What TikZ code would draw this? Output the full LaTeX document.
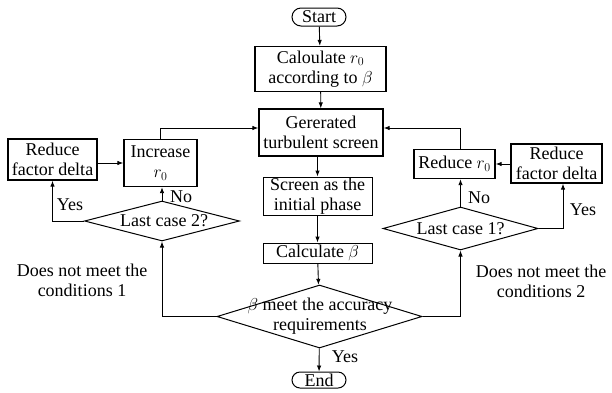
\documentclass[tikz,border=0pt]{standalone}
\usepackage{fontspec}
\setmainfont{Liberation Serif}
\usetikzlibrary{arrows.meta,shapes.geometric,shapes.misc}

\begin{document}
\begin{tikzpicture}[x=1pt,y=-1pt,font=\fontsize{18}{20}\selectfont,
    flowbox/.style={draw,line width=1.3pt,align=center,inner sep=0.5pt},
    thinbox/.style={draw,line width=0.9pt,align=center,inner sep=0.5pt},
    terminal/.style={draw,line width=1pt,rounded rectangle,inner sep=1pt,
      minimum width=56pt},
    decision/.style={draw,line width=1pt,diamond,inner sep=0pt},
    arr/.style={-{Latex[length=6pt,width=4.5pt]},line width=0.9pt},
    note/.style={align=center,inner sep=1pt}]
  \useasboundingbox (0,0) rectangle (612,392);

  % main column
  \node[terminal,minimum height=18pt] (start) at (319,17) {Start};
  \node[flowbox,minimum width=131pt,minimum height=45pt] (calc) at (320.5,69)
    {Caloulate $r_0$\\according to $\beta$};
  \node[flowbox,minimum width=124pt,minimum height=47pt] (gen) at (321,132.5)
    {Gererated\\turbulent screen};
  \node[thinbox,minimum width=109pt,minimum height=38pt] (screen) at (317.5,196)
    {Screen as the\\initial phase};
  \node[thinbox,minimum width=109pt,minimum height=20pt] (calcb) at (317.5,253)
    {Calculate $\beta$};
  \node[decision,minimum width=205pt,minimum height=63pt] (acc) at (319.5,316.5) {};
  \node[note] (acctext) at (320,316.5) {$\beta$ meet the accuracy\\requirements};
  \node[terminal,minimum height=16pt] (end) at (319,380) {End};

  % left branch
  \node[flowbox,minimum width=89pt,minimum height=41pt] (rfdl) at (52.5,159.5)
    {Reduce\\factor delta};
  \node[flowbox,minimum width=73pt,minimum height=47pt] (inc) at (160.5,163)
    {Increase\\$r_0$};
  \node[decision,minimum width=155pt,minimum height=40pt] (lastb) at (162,221) {};
  \node[inner sep=0pt] (lastbtext) at (164,221) {Last case 2?};

  % right branch
  \node[flowbox,minimum width=81pt,minimum height=29pt] (redr) at (454.5,164)
    {Reduce $r_0$};
  \node[flowbox,minimum width=91pt,minimum height=39pt] (rfdr) at (556.5,163.5)
    {Reduce\\factor delta};
  \node[decision,minimum width=155pt,minimum height=43pt] (lasta) at (460.5,228.5) {};
  \node[inner sep=0pt] (lastatext) at (460.5,228.5) {Last case 1?};

  % labels
  \node[note] (condl) at (82,280) {Does not meet the\\conditions 1};
  \node[note] (condr) at (541,281) {Does not meet the\\conditions 2};
  \node[note] (yesl) at (70,205) {Yes};
  \node[note] (nol) at (181,197) {No};
  \node[note] (nor) at (479,198) {No};
  \node[note] (yesr) at (583,210) {Yes};
  \node[note] (yesb) at (345,357) {Yes};

  % main flow
  \draw[arr] (start) -- (calc);
  \draw[arr] (calc) -- (gen);
  \draw[arr] (gen.south -| screen) -- (screen);
  \draw[arr] (screen) -- (calcb);
  \draw[arr] (calcb) -- (acc);
  \draw[arr] (acc) -- (end);

  % left loop
  \draw[arr] (acc.west) -| (lastb.south);
  \draw[arr] (lastb.north) -- (lastb.north |- inc.south);
  \draw[arr] (lastb.west) -| (rfdl.south);
  \draw[arr] (rfdl.east |- inc.west) -- (inc.west);
  \draw[arr] (inc.north) |- ([yshift=4.5pt]gen.west);

  % right loop
  \draw[arr] (acc.east) -| (lasta.south);
  \draw[arr] (lasta.north) -- (lasta.north |- redr.south);
  \draw[arr] (lasta.east) -| ([xshift=6.5pt]rfdr.south);
  \draw[arr] (rfdr.west |- redr.east) -- (redr.east);
  \draw[arr] (redr.north -| lasta.north) |- ([yshift=4.5pt]gen.east);
\end{tikzpicture}
\end{document}
